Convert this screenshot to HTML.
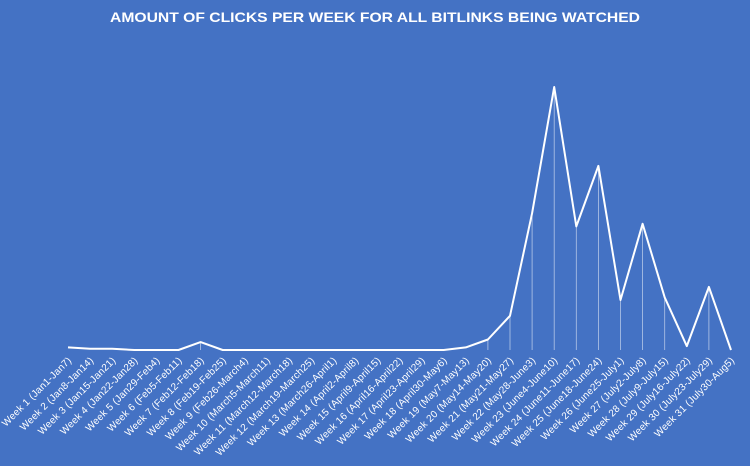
<!DOCTYPE html>
<html><head><meta charset="utf-8"><style>
html,body{margin:0;padding:0;background:#4472C4;}
svg{display:block;font-family:"Liberation Sans",sans-serif;}
</style></head><body>
<svg id="chart" width="750" height="466" viewBox="0 0 750 466">
<rect width="750" height="466" fill="#4472C4"/>
<text x="375" y="22" text-anchor="middle" fill="#fff" font-size="14" font-weight="bold" textLength="530" lengthAdjust="spacingAndGlyphs">AMOUNT OF CLICKS PER WEEK FOR ALL BITLINKS BEING WATCHED</text>
<g id="drops"></g><g id="plot"></g><g id="labels"></g>
</svg>
<script>
const categories = ["Week 1 (Jan1-Jan7)","Week 2 (Jan8-Jan14)","Week 3 (Jan15-Jan21)","Week 4 (Jan22-Jan28)","Week 5 (Jan29-Feb4)","Week 6 (Feb5-Feb11)","Week 7 (Feb12-Feb18)","Week 8 (Feb19-Feb25)","Week 9 (Feb26-March4)","Week 10 (March5-March11)","Week 11 (March12-March18)","Week 12 (March19-March25)","Week 13 (March26-April1)","Week 14 (April2-April8)","Week 15 (April9-April15)","Week 16 (April16-April22)","Week 17 (April23-April29)","Week 18 (April30-May6)","Week 19 (May7-May13)","Week 20 (May14-May20)","Week 21 (May21-May27)","Week 22 (May28-June3)","Week 23 (June4-June10)","Week 24 (June11-June17)","Week 25 (June18-June24)","Week 26 (June25-July1)","Week 27 (July2-July8)","Week 28 (July9-July15)","Week 29 (July16-July22)","Week 30 (July23-July29)","Week 31 (July30-Aug5)"];
const clicks = [1,0.5,0.5,0,0,0,3,0,0,0,0,0,0,0,0,0,0,0,1,4,13,52,100,47,70,19,48,20,1.5,24,0];
const yMax = 100;
const NS="http://www.w3.org/2000/svg";
const x0=68,x1=731,yBase=350,yTop=87;
const xs=i=>x0+i*(x1-x0)/(categories.length-1);
const ys=v=>yBase-(v/yMax)*(yBase-yTop);
const drops=document.getElementById('drops'),plot=document.getElementById('plot'),labels=document.getElementById('labels');
let d="";
clicks.forEach((v,i)=>{
  d+=(i?"L":"M")+xs(i).toFixed(1)+","+ys(v).toFixed(1);
  if(v>2){
    const l=document.createElementNS(NS,'line');
    l.setAttribute('x1',xs(i));l.setAttribute('x2',xs(i));
    l.setAttribute('y1',ys(v));l.setAttribute('y2',yBase);
    l.setAttribute('stroke','rgba(255,255,255,0.6)');l.setAttribute('stroke-width','0.8');
    
    
    drops.appendChild(l);
  }
  const t=document.createElementNS(NS,'text');
  const tx=xs(i)+4,ty=361;
  t.setAttribute('x',tx);t.setAttribute('y',ty);
  t.setAttribute('text-anchor','end');
  t.setAttribute('transform','rotate(-45 '+tx+' '+ty+')');
  t.setAttribute('fill','#fff');t.setAttribute('font-size','10');
  t.setAttribute('letter-spacing','0.2');
  t.textContent=categories[i];
  
  
  labels.appendChild(t);
});
const p=document.createElementNS(NS,'path');
p.setAttribute('d',d);p.setAttribute('fill','none');p.setAttribute('stroke','#fff');
p.setAttribute('stroke-width','2');p.setAttribute('stroke-linejoin','round');


plot.appendChild(p);
</script>
</body></html>
